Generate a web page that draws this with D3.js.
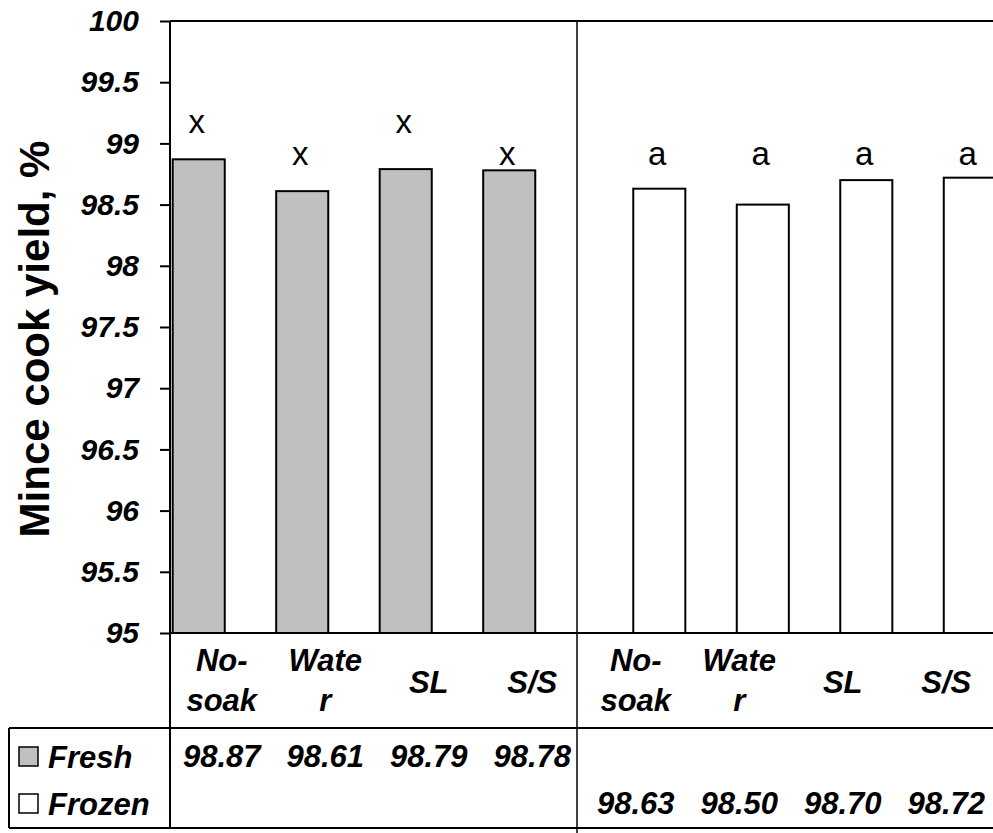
<!DOCTYPE html>
<html>
<head>
<meta charset="utf-8">
<script src="https://cdn.jsdelivr.net/npm/d3@7"></script>
<style>
  body { margin: 0; background: #fff; }
  svg { display: block; font-family: Arial, "Liberation Sans", sans-serif; }
</style>
</head>
<body>
<svg id="main_svg" width="993" height="833"></svg>
<script>
// data
const categories = ["No-soak", "Water", "SL", "S/S", "No-soak", "Water", "SL", "S/S"]
const catLines = [["No-", "soak"], ["Wate", "r"], ["SL"], ["S/S"], ["No-", "soak"], ["Wate", "r"], ["SL"], ["S/S"]]
const seriesNames = ["Fresh", "Frozen"]
const freshValues = [98.87, 98.61, 98.79, 98.78, null, null, null, null]
const frozenValues = [null, null, null, null, 98.63, 98.50, 98.70, 98.72]
const sigLetters = ["x", "x", "x", "x", "a", "a", "a", "a"]
const sigLevel = [99.085, 98.82, 99.085, 98.82, 98.82, 98.82, 98.82, 98.82]
const yTicks = [95, 95.5, 96, 96.5, 97, 97.5, 98, 98.5, 99, 99.5, 100]

const seriesValues = { Fresh: freshValues, Frozen: frozenValues }
const seriesFill = { Fresh: "#c0c0c0", Frozen: "#ffffff" }

const svg = d3.select("#main_svg")
const plotLeft = 170, plotTop = 21, plotBottom = 633
const tableTop = 728, tableBottom = 828, divX = 577

const x = d3.scaleBand()
    .domain(d3.range(categories.length))
    .range([plotLeft, plotLeft + 8 * 103.5])
const bw = x.bandwidth()
const xs = d3.scaleBand()
    .domain(seriesNames)
    .range([bw * 0.026, bw * 0.926])
const barW = bw * 0.503

const y = d3.scaleLinear().domain([95, 100]).range([plotBottom, plotTop])

// bars
seriesNames.forEach(s => {
    const vals = seriesValues[s]
    svg.append("g")
        .selectAll("rect")
        .data(vals.map((v, i) => ({ v: v, i: i })).filter(d => d.v != null))
        .join("rect")
        .attr("x", d => x(d.i) + xs(s))
        .attr("y", d => y(d.v))
        .attr("width", barW)
        .attr("height", d => y(95) - y(d.v))
        .attr("fill", seriesFill[s])
        .attr("stroke", "#000")
        .attr("stroke-width", 2)
})

// significance letters
svg.append("g")
    .selectAll("text")
    .data(sigLetters)
    .join("text")
    .attr("x", (d, i) => x(i) + (freshValues[i] != null ? xs("Fresh") : xs("Frozen")) + barW / 2 - 2)
    .attr("y", (d, i) => y(sigLevel[i]))
    .attr("text-anchor", "middle")
    .attr("font-size", 33)
    .text(d => d)

// y axis
const yAxis = d3.axisLeft(y)
    .tickValues(yTicks)
    .tickSize(10)
    .tickSizeOuter(0)
    .tickPadding(21)
    .tickFormat(d => d)
const gy = svg.append("g")
    .attr("transform", "translate(" + plotLeft + ",0)")
    .call(yAxis)
gy.select(".domain").remove()
gy.selectAll(".tick line").attr("stroke", "#000").attr("stroke-width", 2)
gy.selectAll(".tick text")
    .attr("font-size", 30)
    .attr("font-weight", "bold")
    .attr("font-style", "italic")
    .attr("fill", "#000")
    .attr("font-family", "Arial, 'Liberation Sans', sans-serif")

svg.append("text")
    .attr("transform", "translate(49," + 339 + ") rotate(-90)")
    .attr("text-anchor", "middle")
    .attr("font-size", 42)
    .attr("font-weight", "bold")
    .text("Mince cook yield, %")

// frame and table lines
const lines = [
    [plotLeft, plotTop, 993, plotTop, 2],
    [plotLeft, plotBottom, 993, plotBottom, 2],
    [plotLeft, plotTop, plotLeft, tableBottom, 2],
    [divX, plotTop, divX, 833, 1.5],
    [9, tableTop, 993, tableTop, 2],
    [9, tableBottom, 993, tableBottom, 2],
    [9, tableTop, 9, tableBottom, 2]
]
svg.append("g")
    .selectAll("line")
    .data(lines)
    .join("line")
    .attr("x1", d => d[0]).attr("y1", d => d[1])
    .attr("x2", d => d[2]).attr("y2", d => d[3])
    .attr("stroke", "#000")
    .attr("stroke-width", d => d[4])

// category labels
const catG = svg.append("g")
    .attr("font-size", 31)
    .attr("font-weight", "bold")
    .attr("font-style", "italic")
    .attr("text-anchor", "middle")
catG.selectAll("text")
    .data(catLines)
    .join("text")
    .attr("x", (d, i) => x(i) + bw / 2)
    .attr("y", d => d.length > 1 ? 671 : 693)
    .selectAll("tspan")
    .data(d => d)
    .join("tspan")
    .attr("x", function () { return d3.select(this.parentNode).attr("x") })
    .attr("dy", (d, j) => j === 0 ? 0 : 40)
    .text(d => d)

// data table rows
const fmt = d3.format(".2f")
const rowY = { Fresh: 767, Frozen: 814 }
seriesNames.forEach(s => {
    svg.append("g")
        .selectAll("text")
        .data(seriesValues[s].map((v, i) => ({ v: v, i: i })).filter(d => d.v != null))
        .join("text")
        .attr("x", d => x(d.i) + bw / 2)
        .attr("y", rowY[s])
        .attr("text-anchor", "middle")
        .attr("font-size", 31)
        .attr("font-weight", "bold")
        .attr("font-style", "italic")
        .text(d => fmt(d.v))

    svg.append("rect")
        .attr("x", 19)
        .attr("y", rowY[s] - 20)
        .attr("width", 19)
        .attr("height", 19)
        .attr("fill", seriesFill[s])
        .attr("stroke", "#000")
        .attr("stroke-width", 1.5)
    svg.append("text")
        .attr("x", 48)
        .attr("y", rowY[s] + 1)
        .attr("font-size", 31)
        .attr("font-weight", "bold")
        .attr("font-style", "italic")
        .text(s)
})
</script>
</body>
</html>
